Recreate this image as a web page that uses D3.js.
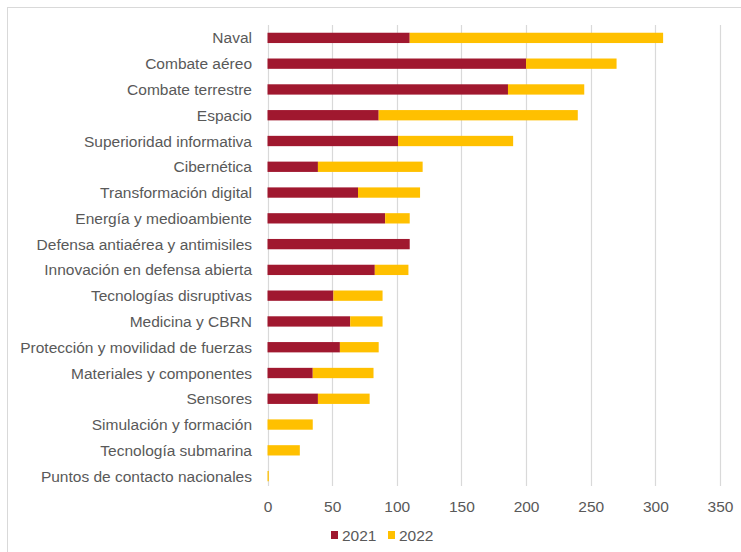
<!DOCTYPE html>
<html>
<head>
<meta charset="utf-8">
<script src="https://cdn.jsdelivr.net/npm/d3@7"></script>
<style>
  html, body { margin: 0; padding: 0; background: #fff; }
  svg { display: block; }
  text { font-family: "Liberation Sans", Arial, sans-serif; fill: #595959; }
</style>
</head>
<body>
<svg id="chart" width="741" height="552"></svg>
<script>
// Areas, from top to bottom
const categories = [
  "Naval", "Combate aéreo", "Combate terrestre", "Espacio",
  "Superioridad informativa", "Cibernética", "Transformación digital",
  "Energía y medioambiente", "Defensa antiaérea y antimisiles",
  "Innovación en defensa abierta", "Tecnologías disruptivas",
  "Medicina y CBRN", "Protección y movilidad de fuerzas",
  "Materiales y componentes", "Sensores", "Simulación y formación",
  "Tecnología submarina", "Puntos de contacto nacionales"
];
const values2021 = [110, 200, 186, 86, 101, 39, 70, 91, 110, 83, 51, 64, 56, 35, 39, 0, 0, 0];
const values2022 = [196, 70, 59, 154, 89, 81, 48, 19, 0, 26, 38, 25, 30, 47, 40, 35, 25, 1];
const seriesNames = ["2021", "2022"];
const seriesColors = ["#a0182f", "#ffc000"];
const xTicks = [0, 50, 100, 150, 200, 250, 300, 350];

const FONT = 15.5;
const svg = d3.select("#chart");

// Light frame around the chart area
svg.append("rect")
  .attr("x", 7.5).attr("y", 7.5)
  .attr("width", 760).attr("height", 560)
  .attr("fill", "none").attr("stroke", "#d9d9d9").attr("stroke-width", 1);

const x = d3.scaleLinear().domain([0, 350]).range([267.5, 720]);
const y = d3.scaleBand().domain(categories).range([25, 489]).paddingInner(0.6).paddingOuter(0.3);

// Vertical gridlines
svg.append("g")
  .selectAll("line")
  .data(xTicks)
  .join("line")
  .attr("x1", d => Math.round(x(d)) + 0.5)
  .attr("x2", d => Math.round(x(d)) + 0.5)
  .attr("y1", 25).attr("y2", 486)
  .attr("stroke", "#d9d9d9").attr("stroke-width", 1.2);

// Stack the two years
const rows = categories.map((c, i) => ({ cat: c, "2021": values2021[i], "2022": values2022[i] }));
const stacked = d3.stack().keys(seriesNames)(rows);

svg.append("g")
  .selectAll("g")
  .data(stacked)
  .join("g")
  .attr("fill", (d, i) => seriesColors[i])
  .selectAll("rect")
  .data(d => d)
  .join("rect")
  .attr("x", d => x(d[0]))
  .attr("y", d => y(d.data.cat))
  .attr("width", d => x(d[1]) - x(d[0]))
  .attr("height", y.bandwidth());

// Category labels
svg.append("g")
  .selectAll("text")
  .data(categories)
  .join("text")
  .attr("x", 252)
  .attr("y", d => y(d) + y.bandwidth() / 2)
  .attr("dy", "0.36em")
  .attr("text-anchor", "end")
  .attr("font-size", FONT)
  .text(d => d);

// Value axis
const xAxis = d3.axisBottom(x).tickValues(xTicks).tickSize(0).tickPadding(0);
const gx = svg.append("g").attr("transform", "translate(0,511.5)").call(xAxis);
gx.select(".domain").remove();
gx.selectAll("text")
  .attr("font-size", FONT)
  .attr("dy", "0")
  .style("font-family", "'Liberation Sans', Arial, sans-serif")
  .attr("fill", "#595959");

// Legend
const legend = svg.append("g").attr("transform", "translate(331,531)");
const items = legend.selectAll("g")
  .data(seriesNames)
  .join("g")
  .attr("transform", (d, i) => `translate(${i * 57},0)`);
items.append("rect")
  .attr("width", 7).attr("height", 8)
  .attr("fill", (d, i) => seriesColors[i]);
items.append("text")
  .attr("x", 11).attr("y", 9.5)
  .attr("font-size", FONT)
  .text(d => d);
</script>
</body>
</html>
